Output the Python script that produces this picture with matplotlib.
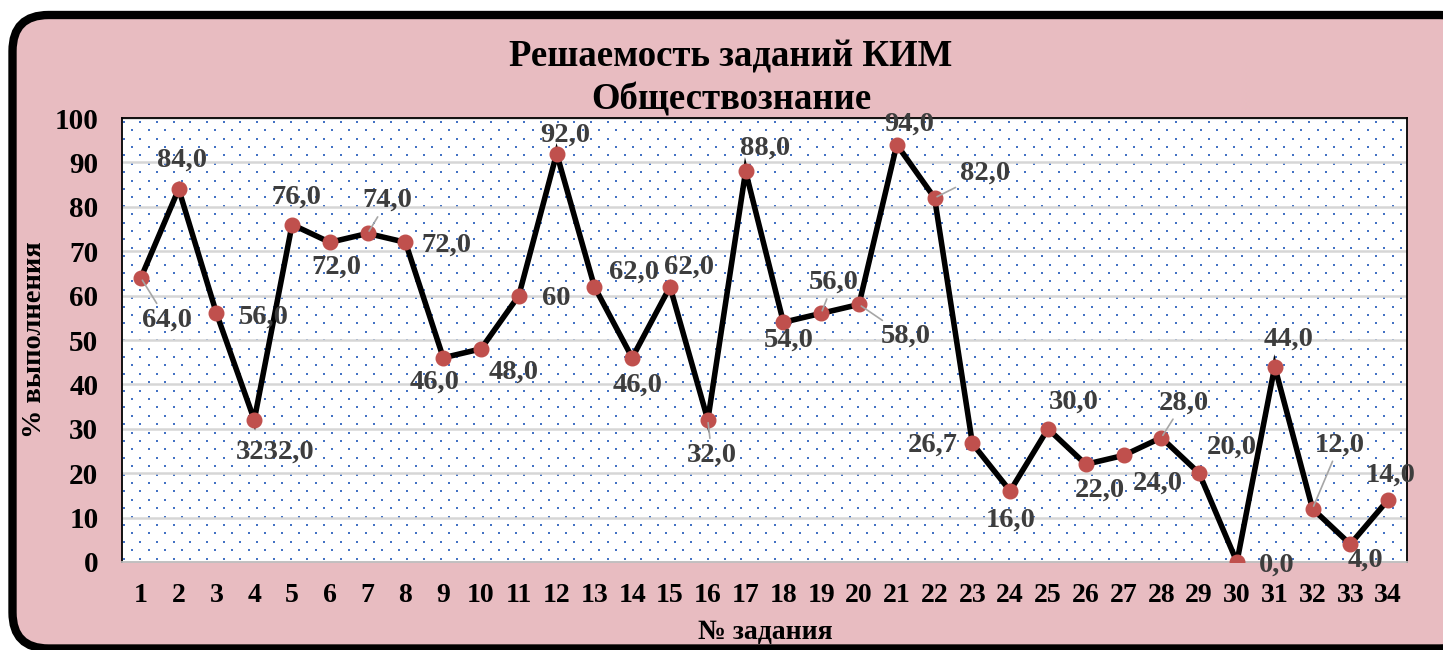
import numpy as np
import matplotlib
matplotlib.use("Agg")
import matplotlib.pyplot as plt
from matplotlib.patches import FancyBboxPatch

# данные
tasks = list(range(1, 35))
values = [64, 84, 56, 32, 76, 72, 74, 72, 46, 48, 60, 92, 62, 46, 62, 32, 88,
          54, 56, 58, 94, 82, 26.7, 16, 30, 22, 24, 28, 20, 0, 44, 12, 4, 14]
labels = ["64,0", "84,0", "56,0", "3232,0", "76,0", "72,0", "74,0", "72,0",
          "46,0", "48,0", "60", "92,0", "62,0", "46,0", "62,0", "32,0", "88,0",
          "54,0", "56,0", "58,0", "94,0", "82,0", "26,7", "16,0", "30,0",
          "22,0", "24,0", "28,0", "20,0", "0,0", "44,0", "12,0", "4,0", "14,0"]
y_ticks = [0, 10, 20, 30, 40, 50, 60, 70, 80, 90, 100]

# смещения подписей (пиксели, y вверх)
label_offsets = [(26, -42), (3, 29), (47, -4), (21, -32), (4, 27), (7, -25),
                 (20, 33), (41, -3), (-9, -24), (33, -23), (37, -3), (9, 18),
                 (40, 15), (5, -27), (19, 20), (4, -35), (19, 23), (5, -18),
                 (12, 31), (47, -32), (12, 20), (50, 25), (-40, -2), (1, -29),
                 (26, 27), (14, -26), (34, -28), (22, 35), (33, 26), (40, -3),
                 (14, 27), (27, 64), (15, -16), (3, 25)]
leaders = {1, 7, 16, 19, 20, 22, 28, 32}

FONT = "Liberation Serif"
PINK = "#e8bcc1"

W, H = 1443, 650
fig = plt.figure(figsize=(W / 100, H / 100), dpi=100)
fig.patch.set_facecolor("white")

# рамка с закруглёнными углами
frame = FancyBboxPatch((12.5 / W, 1.5 / H), (W + 20) / W, (H - 16.5) / H,
                       boxstyle="round,pad=0,rounding_size=0.025",
                       transform=fig.transFigure, facecolor=PINK,
                       edgecolor="black", linewidth=6, mutation_aspect=W / H,
                       zorder=-5)
frame.set_clip_on(False)
fig.patches.append(frame)

ax = fig.add_axes([122 / W, 88 / H, 1285 / W, 444 / H])
ax.set_zorder(2)
ax.set_facecolor("white")

# точечный узор фона
dx, dy = 16.7 / 1285, 8.4 / 444
px, py = [], []
for r, yy in enumerate(np.arange(dy * 0.45, 1, dy)):
    start = 1.5 / 1285 if r % 2 == 0 else 1.5 / 1285 + dx / 2
    for xx in np.arange(start, 1 - 0.5 / 1285, dx):
        px.append(xx)
        py.append(1 - yy)
ax.scatter(px, py, s=4, marker="s", color="#4472c4", linewidths=0,
           transform=ax.transAxes, zorder=0.5)

ax.set_ylim(0, 100)
ax.set_xlim(0.5, 34.5)
ax.set_yticks(y_ticks)
ax.set_xticks(tasks)
ax.grid(axis="y", color="#d6d6d6", linewidth=1.8, zorder=1)
ax.set_axisbelow(True)

ax.plot(tasks, values, color="black", linewidth=4, zorder=3,
        solid_joinstyle="miter")
ax.plot(tasks, values, linestyle="none", marker="o", markersize=10.5,
        color="#c0504d", zorder=4)

for i, (x, v, lab) in enumerate(zip(tasks, values, labels)):
    ox, oy = label_offsets[i]
    props = None
    if x in leaders:
        props = dict(arrowstyle="-", color="#a6a6a6", linewidth=1.2,
                     shrinkA=1, shrinkB=2)
    ax.annotate(lab, (x, v), xytext=(ox, oy), textcoords="offset pixels",
                ha="center", va="center", fontsize=20.5, fontweight="bold",
                family=FONT, color="#3d3d3d", arrowprops=props, zorder=5,
                annotation_clip=False)

for s in ["left", "top", "right"]:
    ax.spines[s].set_color("black")
    ax.spines[s].set_linewidth(1.3)
ax.spines["bottom"].set_color("#bfbfbf")
ax.spines["bottom"].set_linewidth(1.3)

ax.tick_params(length=0)
ax.tick_params(axis="y", labelsize=21, pad=17)
ax.tick_params(axis="x", labelsize=20, pad=15)
for t in ax.get_xticklabels() + ax.get_yticklabels():
    t.set_fontfamily(FONT)
    t.set_fontweight("bold")

fig.text(731 / W, 1 - 57 / H, "Решаемость заданий КИМ", ha="center",
         va="center", fontsize=26.5, fontweight="bold", family=FONT)
fig.text(731 / W, 1 - 100 / H, "Обществознание", ha="center",
         va="center", fontsize=26.5, fontweight="bold", family=FONT)
fig.text(35 / W, 1 - 340 / H, "% выполнения", ha="center", va="center",
         rotation=90, fontsize=20.5, fontweight="bold", family=FONT)
fig.text(765 / W, 1 - 633 / H, "№ задания", ha="center", va="center",
         fontsize=20, fontweight="bold", family=FONT)

fig.savefig("out.png", dpi=100)
